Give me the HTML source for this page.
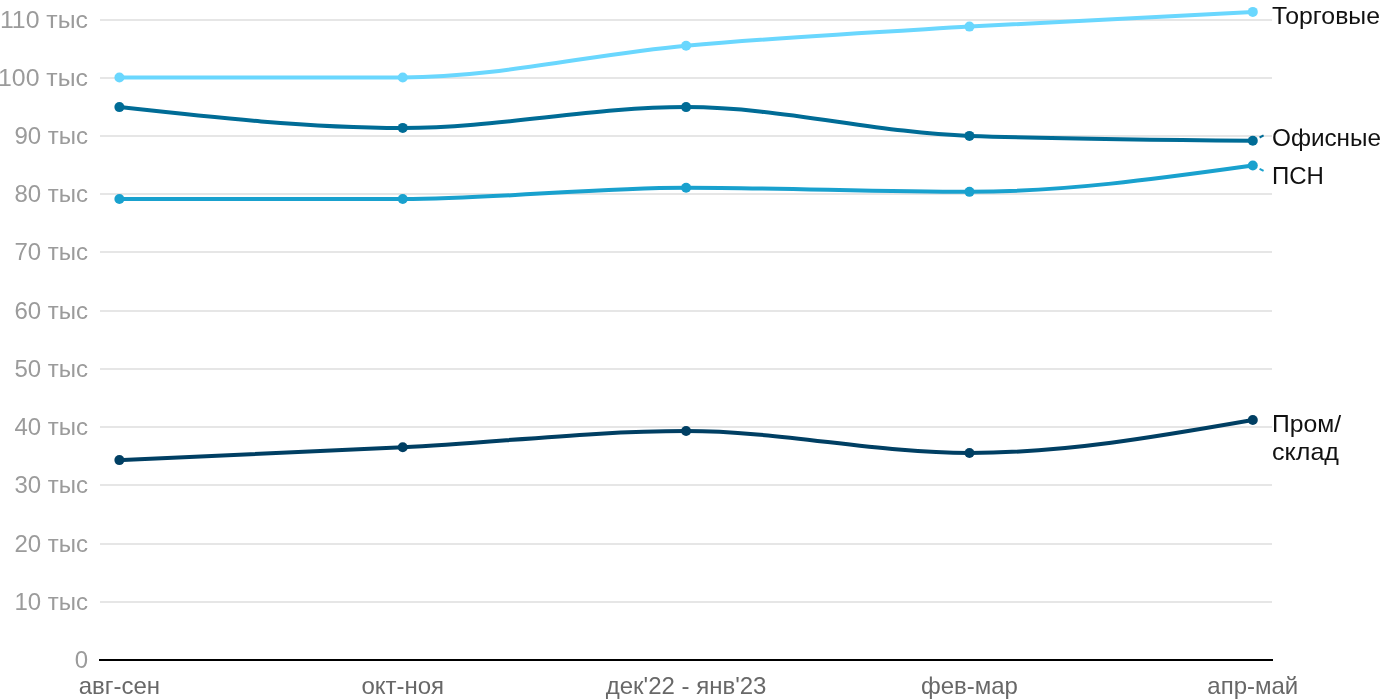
<!DOCTYPE html>
<html><head><meta charset="utf-8"><style>
html,body{margin:0;padding:0;background:#fff;width:1400px;height:700px;overflow:hidden}
svg{display:block;will-change:transform}
text{font-family:"Liberation Sans",sans-serif}
.yl{font-size:24px;fill:#9b9b9b;text-anchor:end}
.xl{font-size:24px;fill:#686868;text-anchor:middle}
.sl{font-size:24px;fill:#111}
</style></head><body>
<svg width="1400" height="700" viewBox="0 0 1400 700">
<rect x="100" y="601" width="1172" height="2" fill="#e6e6e6"/>
<rect x="100" y="543" width="1172" height="2" fill="#e6e6e6"/>
<rect x="100" y="484" width="1172" height="2" fill="#e6e6e6"/>
<rect x="100" y="426" width="1172" height="2" fill="#e6e6e6"/>
<rect x="100" y="368" width="1172" height="2" fill="#e6e6e6"/>
<rect x="100" y="310" width="1172" height="2" fill="#e6e6e6"/>
<rect x="100" y="251" width="1172" height="2" fill="#e6e6e6"/>
<rect x="100" y="193" width="1172" height="2" fill="#e6e6e6"/>
<rect x="100" y="135" width="1172" height="2" fill="#e6e6e6"/>
<rect x="100" y="77" width="1172" height="2" fill="#e6e6e6"/>
<rect x="100" y="19" width="1172" height="2" fill="#e6e6e6"/>
<text transform="translate(88,668.20) scale(1.000,1)" class="yl">0</text>
<text transform="translate(88,610.20) scale(1.000,1)" class="yl">10 тыс</text>
<text transform="translate(88,552.20) scale(1.000,1)" class="yl">20 тыс</text>
<text transform="translate(88,493.20) scale(1.000,1)" class="yl">30 тыс</text>
<text transform="translate(88,435.20) scale(1.000,1)" class="yl">40 тыс</text>
<text transform="translate(88,377.20) scale(1.000,1)" class="yl">50 тыс</text>
<text transform="translate(88,319.20) scale(1.000,1)" class="yl">60 тыс</text>
<text transform="translate(88,260.20) scale(1.000,1)" class="yl">70 тыс</text>
<text transform="translate(88,202.20) scale(1.000,1)" class="yl">80 тыс</text>
<text transform="translate(88,144.20) scale(1.000,1)" class="yl">90 тыс</text>
<text transform="translate(88,86.20) scale(1.035,1)" class="yl">100 тыс</text>
<text transform="translate(88,28.20) scale(1.035,1)" class="yl">110 тыс</text>
<rect x="99" y="659" width="1174" height="2" fill="#000"/>
<path d="M119.40,460.10 C213.85,456.12 308.30,452.15 402.75,447.30 C497.20,442.45 591.65,431.00 686.10,431.00 C780.55,431.00 875.00,453.00 969.45,453.00 C1063.90,453.00 1158.35,436.50 1252.80,420.00" fill="none" stroke="#003f63" stroke-width="4" stroke-linecap="round" stroke-linejoin="round"/>
<circle cx="119.40" cy="460.10" r="5" fill="#003f63"/>
<circle cx="402.75" cy="447.30" r="5" fill="#003f63"/>
<circle cx="686.10" cy="431.00" r="5" fill="#003f63"/>
<circle cx="969.45" cy="453.00" r="5" fill="#003f63"/>
<circle cx="1252.80" cy="420.00" r="5" fill="#003f63"/>
<path d="M119.40,199.00 C213.85,199.00 308.30,199.00 402.75,199.00 C497.20,199.00 591.65,187.70 686.10,187.70 C780.55,187.70 875.00,191.85 969.45,191.85 C1063.90,191.85 1158.35,178.67 1252.80,165.50" fill="none" stroke="#19a1ce" stroke-width="4" stroke-linecap="round" stroke-linejoin="round"/>
<circle cx="119.40" cy="199.00" r="5" fill="#19a1ce"/>
<circle cx="402.75" cy="199.00" r="5" fill="#19a1ce"/>
<circle cx="686.10" cy="187.70" r="5" fill="#19a1ce"/>
<circle cx="969.45" cy="191.85" r="5" fill="#19a1ce"/>
<circle cx="1252.80" cy="165.50" r="5" fill="#19a1ce"/>
<path d="M119.40,107.10 C213.85,117.50 308.30,127.90 402.75,127.90 C497.20,127.90 591.65,107.10 686.10,107.10 C780.55,107.10 875.00,132.63 969.45,135.90 C1063.90,139.17 1158.35,139.98 1252.80,140.80" fill="none" stroke="#006c96" stroke-width="4" stroke-linecap="round" stroke-linejoin="round"/>
<circle cx="119.40" cy="107.10" r="5" fill="#006c96"/>
<circle cx="402.75" cy="127.90" r="5" fill="#006c96"/>
<circle cx="686.10" cy="107.10" r="5" fill="#006c96"/>
<circle cx="969.45" cy="135.90" r="5" fill="#006c96"/>
<circle cx="1252.80" cy="140.80" r="5" fill="#006c96"/>
<path d="M119.40,77.50 C213.85,77.50 308.30,77.50 402.75,77.50 C497.20,77.50 591.65,54.18 686.10,45.70 C780.55,37.22 875.00,32.23 969.45,26.60 C1063.90,20.97 1158.35,16.43 1252.80,11.90" fill="none" stroke="#6ad7fe" stroke-width="4" stroke-linecap="round" stroke-linejoin="round"/>
<circle cx="119.40" cy="77.50" r="5" fill="#6ad7fe"/>
<circle cx="402.75" cy="77.50" r="5" fill="#6ad7fe"/>
<circle cx="686.10" cy="45.70" r="5" fill="#6ad7fe"/>
<circle cx="969.45" cy="26.60" r="5" fill="#6ad7fe"/>
<circle cx="1252.80" cy="11.90" r="5" fill="#6ad7fe"/>
<line x1="1259.6" y1="137.5" x2="1263.6" y2="135.4" stroke="#006c96" stroke-width="2"/>
<line x1="1259.6" y1="168.9" x2="1263.6" y2="170.9" stroke="#19a1ce" stroke-width="2"/>
<text x="119.40" y="693.8" class="xl">авг-сен</text>
<text x="402.75" y="693.8" class="xl">окт-ноя</text>
<text x="686.10" y="693.8" class="xl">дек'22 - янв'23</text>
<text x="969.45" y="693.8" class="xl">фев-мар</text>
<text x="1252.80" y="693.8" class="xl">апр-май</text>
<text transform="translate(1272,23.60) scale(1.035,1)" class="sl">Торговые</text>
<text transform="translate(1272,146.30) scale(1.013,1)" class="sl">Офисные</text>
<text transform="translate(1272,184.10) scale(1.000,1)" class="sl">ПСН</text>
<text transform="translate(1272,431.90) scale(1.030,1)" class="sl">Пром/</text>
<text transform="translate(1272,460.00) scale(1.045,1)" class="sl">склад</text>
</svg>
</body></html>
